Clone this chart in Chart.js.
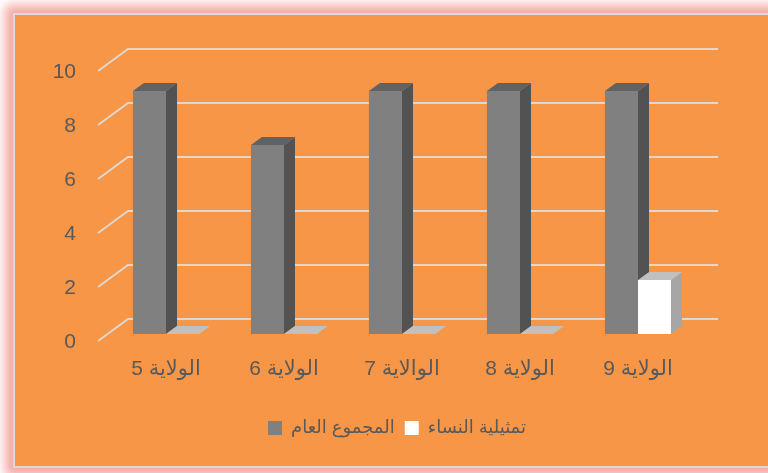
<!DOCTYPE html>
<html>
<head>
<meta charset="utf-8">
<script src="https://cdn.jsdelivr.net/npm/chart.js@4"></script>
<style>
  html, body { margin: 0; padding: 0; background: #ffffff; overflow: hidden; }
  #frame {
    position: absolute; left: 13px; top: 13px; width: 800px; height: 455px;
    box-sizing: border-box; border: 2px solid #d9d9d9; background: #f79646;
    box-shadow: 0 0 10px 8px #f5a8a8;
  }
  #wrap { position: absolute; left: 0; top: 0; width: 768px; height: 473px; }
</style>
</head>
<body>
<div id="frame"></div>
<div id="wrap"><canvas id="chart" width="768" height="473"></canvas></div>
<script>
  const categories = ["الولاية 5", "الولاية 6", "الوالاية 7", "الولاية 8", "الولاية 9"];
  const totalValues = [9, 7, 9, 9, 9];
  const womenValues = [0, 0, 0, 0, 2];
  const seriesNames = ["المجموع العام", "تمثيلية النساء"];
  const yTicks = [0, 2, 4, 6, 8, 10];

  const fontFamily = "'Liberation Sans', 'DejaVu Sans', sans-serif";
  const textColor = "#595959";
  const gridColor = "rgba(222, 222, 222, 0.9)";

  // faces: front, side, top
  const faces = [
    { front: "#808080", side: "#525252", top: "#626262" },
    { front: "#ffffff", side: "#a6a6a6", top: "#c0c0c0" }
  ];
  const depth = { dx: 11, dy: -8 };
  const wall = { dx: 21, dy: -15, front: 7 };

  const threeD = {
    id: "threeD",
    beforeDatasetsDraw(chart) {
      const { ctx, chartArea } = chart;
      const y = chart.scales.y;
      ctx.save();
      ctx.strokeStyle = gridColor;
      ctx.lineWidth = 2;
      y.ticks.forEach(t => {
        const py = y.getPixelForValue(t.value);
        ctx.beginPath();
        ctx.moveTo(chartArea.left - 9, py + wall.front);
        ctx.lineTo(chartArea.left + wall.dx, py + wall.dy);
        ctx.lineTo(chartArea.right + wall.dx, py + wall.dy);
        ctx.stroke();
      });
      ctx.restore();
    },
    afterDatasetsDraw(chart) {
      const { ctx } = chart;
      const metas = chart.data.datasets.map((d, i) => chart.getDatasetMeta(i));
      ctx.save();
      categories.forEach((c, idx) => {
        metas.forEach((meta, di) => {
          const el = meta.data[idx];
          const { x, y, base, width } = el.getProps(["x", "y", "base", "width"], true);
          const l = x - width / 2, r = x + width / 2;
          const f = faces[di];
          ctx.fillStyle = f.front;
          ctx.fillRect(l, y, width, base - y);
          ctx.fillStyle = f.side;
          ctx.beginPath();
          ctx.moveTo(r, y); ctx.lineTo(r + depth.dx, y + depth.dy);
          ctx.lineTo(r + depth.dx, base + depth.dy); ctx.lineTo(r, base);
          ctx.closePath(); ctx.fill();
          ctx.fillStyle = f.top;
          ctx.beginPath();
          ctx.moveTo(l, y); ctx.lineTo(l + depth.dx, y + depth.dy);
          ctx.lineTo(r + depth.dx, y + depth.dy); ctx.lineTo(r, y);
          ctx.closePath(); ctx.fill();
        });
      });
      ctx.restore();
    }
  };

  new Chart(document.getElementById("chart"), {
    type: "bar",
    data: {
      labels: categories,
      datasets: [
        { label: seriesNames[0], data: totalValues, backgroundColor: "#808080", borderWidth: 0 },
        { label: seriesNames[1], data: womenValues, backgroundColor: "#ffffff", borderWidth: 0 }
      ]
    },
    options: {
      responsive: false,
      animation: false,
      events: [],
      layout: { padding: { left: 26, right: 0, top: 64, bottom: 26 } },
      categoryPercentage: 0.56,
      barPercentage: 1,
      scales: {
        x: {
          grid: { display: false, drawTicks: false },
          border: { display: false },
          ticks: { color: textColor, padding: 23, font: { family: fontFamily, size: 21 } },
          afterFit: s => { s.height = 75; }
        },
        y: {
          min: 0, max: 10,
          afterBuildTicks: s => { s.ticks = yTicks.map(v => ({ value: v })); },
          grid: { display: false, drawTicks: false },
          border: { display: false },
          ticks: { color: textColor, padding: 31, labelOffset: 8, font: { family: fontFamily, size: 21 } },
          afterFit: s => { s.width = 81; }
        },
        y2: {
          position: "right",
          grid: { display: false, drawTicks: false },
          border: { display: false },
          ticks: { display: false },
          afterFit: s => { s.width = 71; }
        }
      },
      plugins: {
        legend: {
          position: "bottom",
          labels: {
            color: textColor, boxWidth: 14, boxHeight: 14, padding: 10,
            font: { family: fontFamily, size: 18 }
          }
        },
        tooltip: { enabled: false }
      }
    },
    plugins: [threeD]
  });
</script>
</body>
</html>
